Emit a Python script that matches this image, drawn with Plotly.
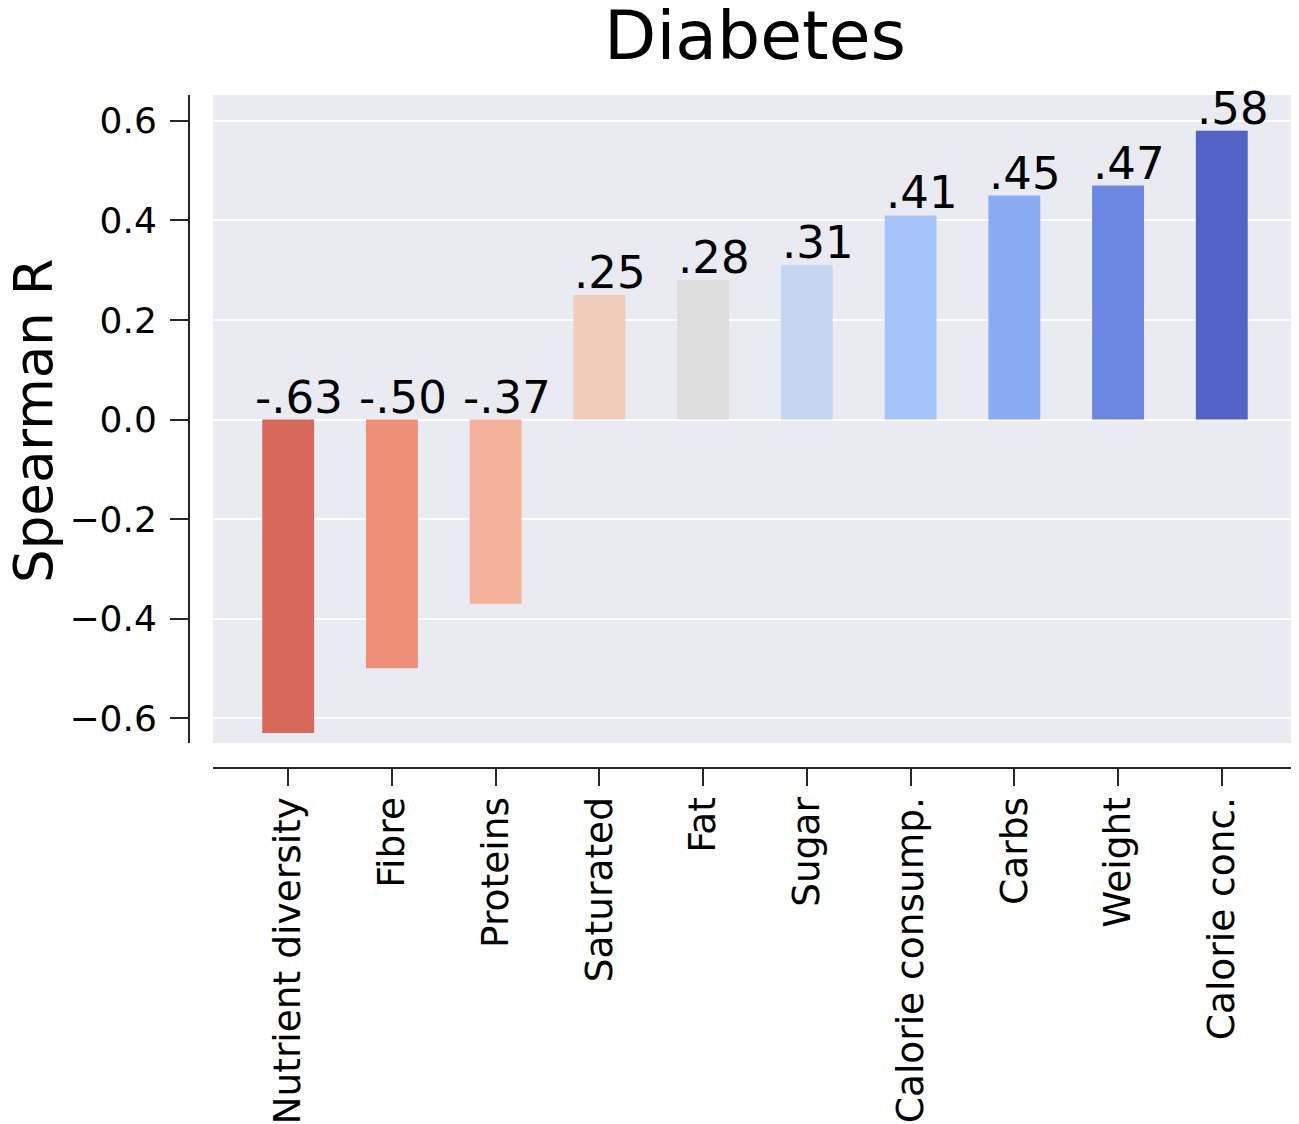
import plotly.graph_objects as go

categories = ["Nutrient diversity", "Fibre", "Proteins", "Saturated", "Fat",
              "Sugar", "Calorie consump.", "Carbs", "Weight", "Calorie conc."]
values = [-0.63, -0.50, -0.37, 0.25, 0.28, 0.31, 0.41, 0.45, 0.47, 0.58]
value_labels = ["-.63", "-.50", "-.37", ".25", ".28", ".31", ".41", ".45", ".47", ".58"]
bar_colors = ["#d8685a", "#ee9079", "#f5b29a", "#f0cdbb", "#dddddd",
              "#c5d6f2", "#a7c3fb", "#8aaaf5", "#6b87e3", "#5262c7"]
y_tickvals = [-0.6, -0.4, -0.2, 0.0, 0.2, 0.4, 0.6]
y_ticktext = ["\u22120.6", "\u22120.4", "\u22120.2", "0.0", "0.2", "0.4", "0.6"]
y_title = "Spearman R"
chart_title = "Diabetes"

# page body has an 8px margin, so the figure is drawn 8px in from the corner
OFF = 8
W, H = 1299 - OFF, 1124 - OFF
FONT = "DejaVu Sans"
INK = "#262626"
xr = [-0.725, 9.725]
yr = [-0.650, 0.652]
xdom = [24 / 1108, 1]
ydom = [25 / 673, 1]
ML, MR, MT = 189 - OFF, 2, 95 - OFF
MB = H - (768 - OFF)
PW = W - ML - MR
PH = H - MT - MB

fig = go.Figure()
fig.add_trace(go.Bar(
    x=categories, y=values, width=0.5,
    marker=dict(color=bar_colors, line=dict(width=0)),
    xaxis="x", yaxis="y", showlegend=False, hoverinfo="x+y",
))
# invisible trace to drive the offset axes
fig.add_trace(go.Scatter(
    x=categories, y=values, mode="markers", marker=dict(opacity=0),
    xaxis="x2", yaxis="y2", showlegend=False, hoverinfo="skip",
))

for c, v, t in zip(categories, values, value_labels):
    fig.add_annotation(
        x=c, y=max(v, 0), xref="x", yref="y", text=t, showarrow=False,
        yanchor="bottom", xanchor="center", xshift=11, yshift=-6,
        font=dict(family=FONT, size=45, color="black"),
    )

# y-axis title
fig.add_annotation(
    text=y_title, textangle=-90, showarrow=False,
    xref="paper", yref="paper",
    x=(33 - OFF - ML) / PW, y=(768 - 421) / 673,
    xanchor="center", yanchor="middle",
    font=dict(family=FONT, size=53, color="black"),
)

fig.update_layout(
    width=W, height=H,
    margin=dict(l=ML, r=MR, t=MT, b=MB, pad=0, autoexpand=False),
    paper_bgcolor="white",
    plot_bgcolor="#EAEAF2",
    font=dict(family=FONT, color=INK),
    title=dict(text=chart_title, xref="container", x=(755 - OFF) / W, xanchor="center",
               yref="container", y=1 - (35 - OFF) / H, yanchor="middle",
               font=dict(family=FONT, size=68, color="black")),
    xaxis=dict(domain=xdom, range=xr, type="category", categoryorder="array",
               categoryarray=categories, showgrid=False, zeroline=False,
               showticklabels=False, ticks="", showline=False, anchor="y",
               automargin=False),
    yaxis=dict(domain=ydom, range=yr, tickvals=y_tickvals, showgrid=True,
               gridcolor="white", gridwidth=1.6, zeroline=False,
               showticklabels=False, ticks="", showline=False, anchor="x",
               automargin=False),
    xaxis2=dict(domain=xdom, range=xr, type="category", categoryorder="array",
                categoryarray=categories, overlaying="x", anchor="free", position=0,
                showgrid=False, zeroline=False, showline=True, linecolor=INK,
                linewidth=2, ticks="outside", ticklen=17, tickwidth=2,
                tickcolor=INK, tickangle=-90, ticklabelstandoff=-4,
                automargin=False,
                tickfont=dict(family=FONT, size=37.5, color="black")),
    yaxis2=dict(domain=ydom, range=yr, tickvals=y_tickvals, ticktext=y_ticktext,
                overlaying="y", anchor="free", position=0, side="left",
                showgrid=False, zeroline=False, showline=True, linecolor=INK,
                linewidth=2, ticks="outside", ticklen=18, tickwidth=2,
                tickcolor=INK, ticklabelstandoff=6, automargin=False,
                tickfont=dict(family=FONT, size=36, color="black")),
)

fig.write_html("out.html")
